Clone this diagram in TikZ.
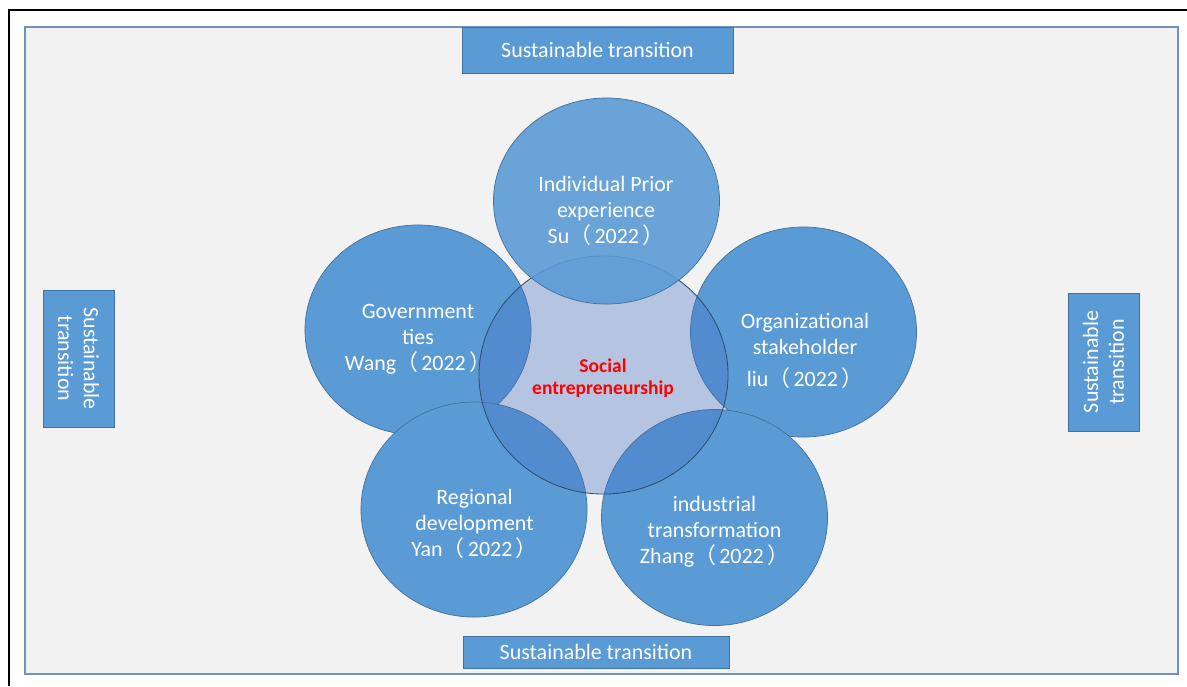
\documentclass[tikz,border=0pt]{standalone}
\usepackage{fontspec}
\setmainfont{Carlito}
\newfontfamily\cjk{Noto Sans CJK SC}
\usetikzlibrary{shapes.geometric, positioning}
\definecolor{boxblue}{HTML}{5B9BD5}
\definecolor{edgeblue}{HTML}{41719C}
\definecolor{coreblue}{HTML}{4472C4}
\definecolor{panelgray}{HTML}{F2F2F2}
\definecolor{panelline}{HTML}{6F93BD}
\newcommand{\yr}[1]{{\cjk （}\hspace{0.15em}#1\hspace{0.15em}{\cjk ）}}

\begin{document}
\begin{tikzpicture}[
    x=0.025cm, y=-0.025cm,
    bubble/.style={ellipse, draw=edgeblue, line width=0.5pt, fill=boxblue, minimum width=5.65cm, minimum height=5.25cm, inner sep=0pt},
    core/.style={ellipse, draw=edgeblue!70!black, line width=0.6pt, fill=coreblue, fill opacity=0.35, minimum width=6.225cm, minimum height=5.95cm, inner sep=0pt},
    banner/.style={rectangle, draw=edgeblue, line width=0.5pt, fill=boxblue, text=white, align=center, inner sep=0pt, font=\fontsize{15.6}{18.4}\selectfont},
    txt/.style={text=white, align=center, inner sep=0pt, font=\fontsize{15.6}{18.4}\selectfont}
]
    \useasboundingbox (0,0) rectangle (1187,686);
    % frame and panel
    \draw[line width=0.05cm] (9,686) -- (9,10) -- (1187,10);
    \draw[draw=panelline, fill=panelgray, line width=1.2pt] (25,27) rectangle (1178,674);

    \node[banner, minimum width=6.775cm, minimum height=1.15cm] (top) 	at (597.5,50)	{Sustainable transition};
    \node[banner, minimum width=6.65cm, minimum height=0.8cm] (bottom) 	at (596,652)	{Sustainable transition};
    \node[banner, rotate=-90, minimum width=3.425cm, minimum height=1.775cm] (left)	at (78.5,358.5)	{Sustainable\\transition};
    \node[banner, rotate=90, minimum width=3.45cm, minimum height=1.775cm] (right)	at (1103.5,362)	{Sustainable\\transition};

    \node[bubble] (wang) 	at (418,330)	{};
    \node[bubble] (liu) 	at (803.5,332)	{};
    \node[bubble, minimum height=5.375cm] (yan) 	at (474,509.5)	{};
    \node[bubble, minimum height=5.4cm] (zhang) 	at (714.5,517.5)	{};
    \node[core] (se) 		at (603.5,375)	{};
    \node[bubble, fill opacity=0.9, minimum height=5.15cm] (su) 	at (606.5,201)	{};

    \node[txt] (su-t) 	at (606,211)	{Individual Prior\\experience\\Su\yr{2022}};
    \node[txt] (wang-t) 	at (418,339)	{Government\\ties\\Wang\yr{2022}};
    \node[txt] (liu-t) 	at (805,351)	{Organizational\\stakeholder\\[5pt]liu\yr{2022}};
    \node[txt] (yan-t) 	at (474.5,524)	{Regional\\development\\Yan\yr{2022}};
    \node[txt] (zhang-t) 	at (714.5,532)	{industrial\\transformation\\Zhang\yr{2022}};
    \node[text=red, align=center, inner sep=0pt, font=\bfseries\fontsize{13.9}{15.6}\selectfont] (se-t) at (603,378) {Social\\entrepreneurship};
\end{tikzpicture}
\end{document}
